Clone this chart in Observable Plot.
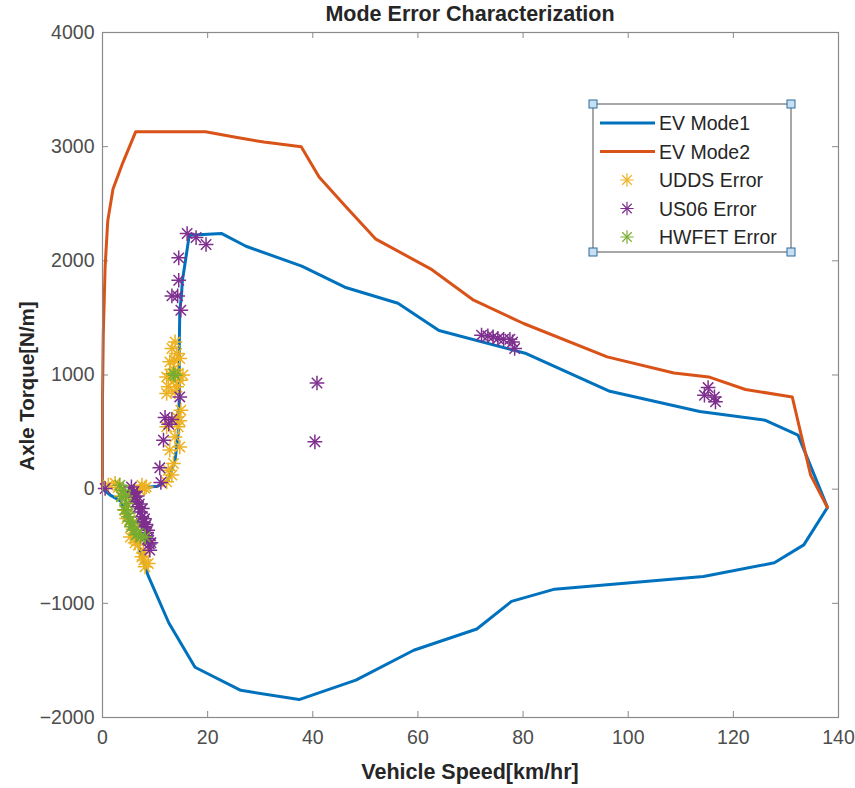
<!DOCTYPE html>
<html><head><meta charset="utf-8">
<script src="https://cdn.jsdelivr.net/npm/d3@7"></script>
<script src="https://cdn.jsdelivr.net/npm/@observablehq/plot@0.6"></script>
<style>
body{margin:0;background:#fff;font-family:"Liberation Sans",Arial,Helvetica,sans-serif;}
#wrap{position:relative;width:855px;height:788px;overflow:hidden;}
#wrap svg.plot{position:absolute;left:0;top:0;}
.lbl{position:absolute;font-weight:bold;color:#262626;white-space:nowrap;line-height:1;}
#title{top:4px;left:220px;width:500px;text-align:center;font-size:21.5px;}
#xlabel{top:762px;left:220px;width:500px;text-align:center;font-size:21.5px;}
#ylabel{left:27px;top:386px;font-size:20.5px;transform:translate(-50%,-50%) rotate(-90deg);}
#legend{position:absolute;left:0;top:0;}
</style></head><body>
<div id="wrap">
  <div id="title" class="lbl">Mode Error Characterization</div>
  <div id="xlabel" class="lbl">Vehicle Speed[km/hr]</div>
  <div id="ylabel" class="lbl">Axle Torque[N/m]</div>
</div>
<script>
const xTicks = [0, 20, 40, 60, 80, 100, 120, 140];
const yTicks = [-2000, -1000, 0, 1000, 2000, 3000, 4000];

const mode1Speed  = [0, 1.4, 3.5, 5.2, 7.2, 8.7, 12.6, 17.6, 26.3, 37.4, 48.2, 59.2, 71.2, 77.8, 86, 114.3, 127.8, 133.4, 137.9, 132.3, 126, 113.6, 96.5, 80.6, 64, 56.2, 46.1, 37.9, 27.3, 22.6, 16.5, 15.7, 15.2, 15, 14.7, 14.6, 14.6, 14.4, 13.8, 12.5, 10.5, 8];
const mode1Torque = [0, -50, -105, -280, -540, -760, -1170, -1560, -1762, -1843, -1672, -1411, -1225, -983, -876, -765, -645, -488, -160, 473, 604, 681, 857, 1188, 1390, 1629, 1769, 1953, 2128, 2240, 2225, 1976, 1830, 1684, 1567, 1217, 808, 487, 254, 79, 25, 15];

const mode2Speed  = [0, 0, 0.15, 0.5, 1, 2, 3.7, 6.3, 19.6, 25.6, 30.7, 37.8, 41.2, 46, 52, 62.4, 70.6, 80.1, 96, 108.7, 115.3, 122.3, 131.2, 134.7, 137.9];
const mode2Torque = [0, 800, 1360, 1950, 2350, 2630, 2840, 3130, 3130, 3080, 3040, 3000, 2735, 2490, 2190, 1930, 1655, 1451, 1159, 1018, 983, 873, 808, 123, -160];

const uddsSpeed  = [13.8, 13.2, 14.1, 13.7, 12.8, 14.7, 13.5, 14.3, 12.8, 12.2, 13.5, 14.7, 12.5, 14.1, 12.2, 13.8, 15.3, 14.9, 14.1, 14.7, 12.2, 14.4, 13.8, 14.7, 12.8, 13.5, 12.5, 13.2, 12.2, 7.5, 7.1, 8.3, 1.1, 2.4, 4.3, 5.2, 4.6, 4.6, 5.8, 6.3, 6.8, 7.5, 8.1, 8.7, 7.8, 3.6, 5.0, 6.0, 8.0, 5.3, 6.2, 7.9, 3.0];
const uddsTorque = [1290, 1232, 1188, 1130, 1115, 1144, 1050, 1010, 1010, 983, 954, 954, 896, 896, 838, 852, 1000, 692, 633, 600, 546, 546, 458, 370, 342, 225, 166, 123, 64, 35, -9, 20, 35, 52, -184, -271, -155, -257, -350, -420, -490, -593, -680, -651, -560, -60, -60, -20, 10, -420, -470, -620, 15];

const us06Speed  = [16.1, 17.8, 19.7, 14.5, 14.5, 13.2, 14.3, 14.9, 14.7, 11.9, 13.2, 12.6, 11.6, 10.9, 11.1, 0.5, 5.5, 5.8, 6.2, 6.5, 6.8, 7.2, 7.5, 7.8, 8.1, 8.4, 8.7, 8.9, 9.0, 6.0, 6.6, 7.0, 7.6, 8.0, 8.3, 8.6, 8.8, 9.2, 7.4, 72.1, 73.3, 74.3, 75.2, 76.3, 77.5, 78, 78.4, 115.2, 114.5, 116.4, 116.6, 40.8, 40.4];
const us06Torque = [2239, 2204, 2143, 2026, 1830, 1693, 1693, 1567, 808, 628, 610, 569, 429, 187, 59, 6, 20, -30, -67, -110, -155, -200, -242, -290, -330, -380, -432, -480, -534, -20, -60, -130, -170, -260, -310, -360, -450, -470, -300, 1349, 1342, 1334, 1319, 1313, 1313, 1290, 1232, 890, 823, 808, 765, 930, 415];

const hwfetSpeed  = [13.8, 13.5, 3.3, 4.0, 3.6, 4.6, 4.2, 4.9, 4.9, 5.5, 6.0, 6.8, 8.1, 4.4, 5.2, 5.8, 7.2, 6.4];
const hwfetTorque = [998, 1010, 35, -9, -67, -125, -180, -213, -242, -330, -360, -388, -418, -60, -280, -300, -420, -400];

const legendLabels = ["EV Mode1", "EV Mode2", "UDDS Error", "US06 Error", "HWFET Error"];
const colors = {mode1: "#0072BD", mode2: "#D95319", udds: "#EDB120", us06: "#7E2F8E", hwfet: "#77AC30"};

const zip = (xs, ys) => xs.map((x, i) => ({x, y: ys[i]}));
const mode1 = zip(mode1Speed, mode1Torque);
const mode2 = zip(mode2Speed, mode2Torque);
const udds = zip(uddsSpeed, uddsTorque);
const us06 = zip(us06Speed, us06Torque);
const hwfet = zip(hwfetSpeed, hwfetTorque);

const W = 855, H = 788, mL = 102, mR = 17, mT = 32, mB = 71;
const plotW = W - mL - mR, plotH = H - mT - mB, tk = 6;
const frameColor = "#8a8a8a";
const tickText = "#4d4d4d";

function star(data, color, r) {
  return [
    Plot.dot(data, {x: "x", y: "y", symbol: "plus", r, stroke: color, strokeWidth: 1.5}),
    Plot.dot(data, {x: "x", y: "y", symbol: "times", r, stroke: color, strokeWidth: 1.5})
  ];
}

const chart = Plot.plot({
  width: W, height: H,
  marginLeft: mL, marginRight: mR, marginTop: mT, marginBottom: mB,
  x: {domain: [0, 140]},
  y: {domain: [-2000, 4000]},
  style: {fontFamily: "'Liberation Sans', Arial, sans-serif", fontSize: "19.5px", color: tickText, background: "white", overflow: "visible"},
  marks: [
    Plot.axisX(xTicks, {anchor: "bottom", tickSize: 0, tickPadding: 13, label: null, tickFormat: d3.format("d"), fill: tickText}),
    Plot.axisY(yTicks, {anchor: "left", tickSize: 0, tickPadding: 8, label: null, tickFormat: d3.format("d"), fill: tickText}),
    Plot.tickX(xTicks, {x: d => d, insetTop: plotH - tk, stroke: frameColor}),
    Plot.tickX(xTicks, {x: d => d, insetBottom: plotH - tk, stroke: frameColor}),
    Plot.tickY(yTicks, {y: d => d, insetRight: plotW - tk, stroke: frameColor}),
    Plot.tickY(yTicks, {y: d => d, insetLeft: plotW - tk, stroke: frameColor}),
    Plot.line(mode1, {x: "x", y: "y", stroke: colors.mode1, strokeWidth: 3}),
    Plot.line(mode2, {x: "x", y: "y", stroke: colors.mode2, strokeWidth: 3}),
    ...star(udds, colors.udds, 4.8),
    ...star(us06, colors.us06, 4.8),
    ...star(hwfet, colors.hwfet, 4.8),
    Plot.frame({stroke: frameColor, strokeWidth: 1.2})
  ]
});
chart.classList.add("plot");
const wrap = document.getElementById("wrap");
wrap.insertBefore(chart, wrap.firstChild);

// Legend
const lg = d3.select(wrap).append("svg").attr("id", "legend").attr("width", W).attr("height", H);
const bx = 593, by = 104, bw = 198, bh = 148;
lg.append("rect").attr("x", bx).attr("y", by).attr("width", bw).attr("height", bh)
  .attr("fill", "white").attr("stroke", frameColor).attr("stroke-width", 1.5);
const rowY = i => 123 + i * 28.5;
const legendColors = [colors.mode1, colors.mode2, colors.udds, colors.us06, colors.hwfet];
legendLabels.forEach((t, i) => {
  const y = rowY(i);
  if (i < 2) {
    lg.append("line").attr("x1", 600).attr("x2", 655).attr("y1", y).attr("y2", y)
      .attr("stroke", legendColors[i]).attr("stroke-width", 3);
  } else {
    const g = lg.append("g").attr("transform", `translate(627,${y})`)
      .attr("stroke", legendColors[i]).attr("stroke-width", 1.2);
    g.append("path").attr("d", d3.symbol(d3.symbolPlus, 60)());
    g.append("path").attr("d", d3.symbol(d3.symbolTimes, 60)());
  }
  lg.append("text").attr("x", 659).attr("y", y).attr("dy", "0.36em")
    .attr("font-size", 19.5).attr("fill", "#262626")
    .attr("font-family", "'Liberation Sans', Arial, sans-serif").text(t);
});
[[bx, by], [bx + bw, by], [bx, by + bh], [bx + bw, by + bh]].forEach(([x, y]) => {
  lg.append("rect").attr("x", x - 4).attr("y", y - 4).attr("width", 8).attr("height", 8)
    .attr("fill", "#c6dff2").attr("stroke", "#2e6c99").attr("stroke-width", 1);
});
</script>
</body></html>
